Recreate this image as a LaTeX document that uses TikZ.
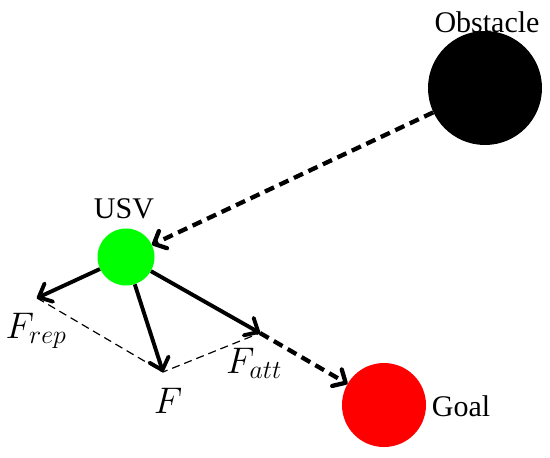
\RequirePackage{fix-cm}
\documentclass[tikz,border=0pt]{standalone}
\usepackage{fontspec}
\setmainfont{Liberation Serif}
\usepackage{amsmath}
\usetikzlibrary{arrows.meta, positioning}
\tikzset{
  ball/.style = {circle, inner sep=0pt},
  force/.style = {line width=3.9pt, -{Straight Barb[length=11pt, width=20pt, round]}},
  pull/.style = {line width=4.3pt, dash pattern=on 10pt off 6pt, -{Straight Barb[length=10pt, width=19pt, round]}},
  helper/.style = {line width=1.2pt, dash pattern=on 8pt off 5pt},
  flabel/.style = {anchor=base, font=\fontsize{37}{42}\selectfont},
}

\begin{document}
\begin{tikzpicture}[x=1pt, y=-1pt, font=\fontsize{30}{36}\selectfont]
  \useasboundingbox (0,0) rectangle (550,458);
  % the three bodies
  \node[ball, fill=black, minimum size=114pt] (obs) at (485,88) {};
  \node[ball, fill=green, minimum size=57pt] (usv) at (126,257) {};
  \node[ball, fill=red, minimum size=84pt] (goal) at (384,405) {};
  \node[anchor=base] (obslbl) at (487,32) {Obstacle};
  \node[anchor=base] (usvlbl) at (124,218) {USV};
  \node[anchor=base] (goallbl) at (461,416) {Goal};
  % force tips
  \coordinate (frep) at (37,298);
  \coordinate (ftot) at (163,372);
  \coordinate (fatt) at (260,333);
  \draw[pull] (obs) -- (usv);
  \draw[force] (usv) -- (frep);
  \draw[force] (usv) -- (ftot);
  \draw[force] (usv) -- (fatt);
  \draw[helper] (frep) -- (ftot) -- (fatt);
  \draw[pull] (fatt) -- (goal);
  \node[flabel] (freplbl) at (36,338) {$F_{rep}$};
  \node[flabel] (ftotlbl) at (168,413) {$F$};
  \node[flabel] (fattlbl) at (254,373) {$F_{att}$};
\end{tikzpicture}
\end{document}
